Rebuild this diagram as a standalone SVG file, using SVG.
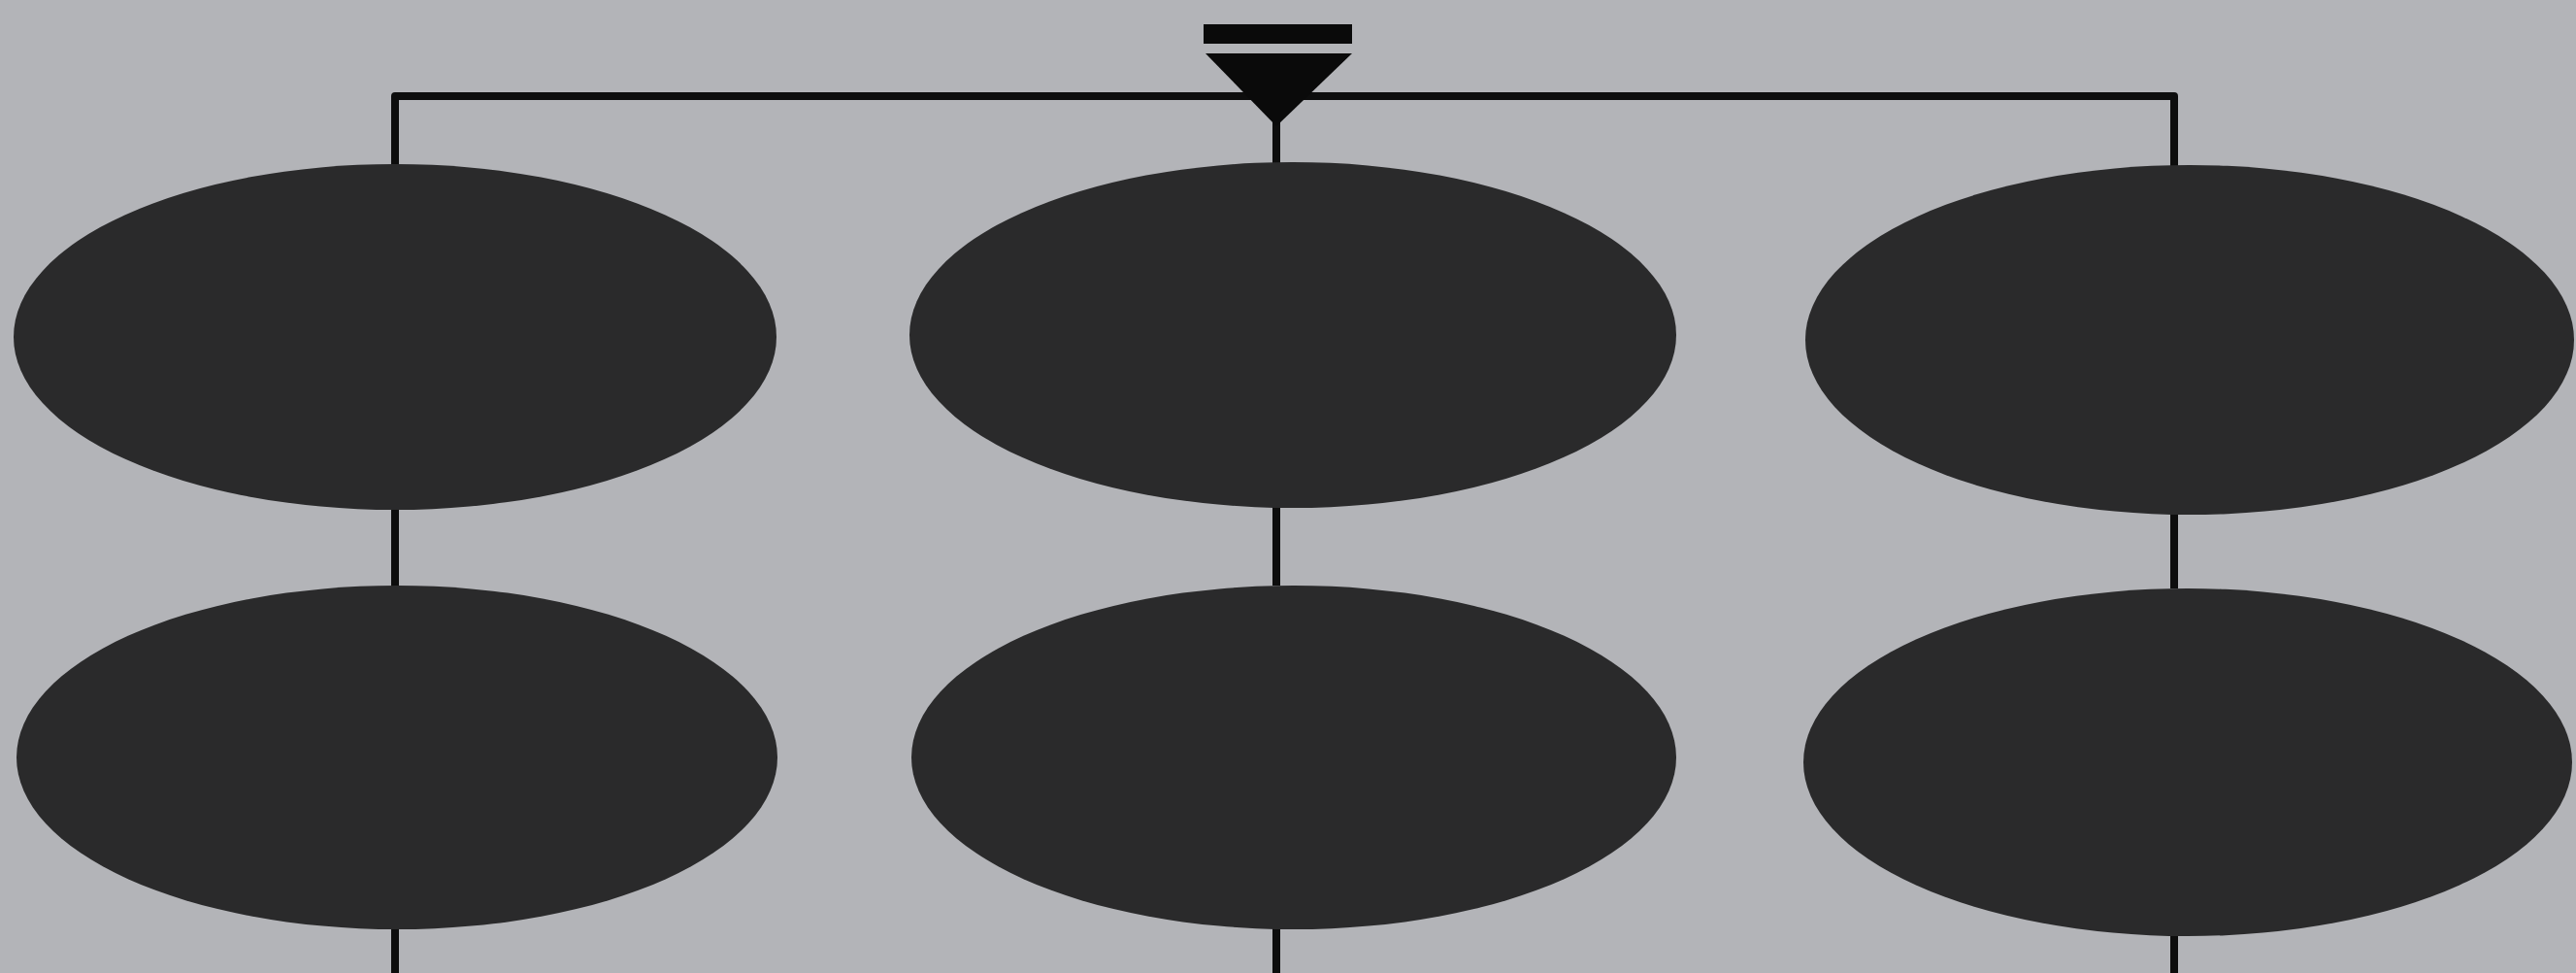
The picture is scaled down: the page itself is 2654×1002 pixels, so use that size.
<svg xmlns="http://www.w3.org/2000/svg" width="2654" height="1002" viewBox="0 0 2654 1002">
  <style>
    .node { fill: #2a2a2b; }
    .wire { fill: none; stroke: #0d0d0d; stroke-width: 8; stroke-linejoin: round; }
    .sym { fill: #0a0a0a; }
  </style>
  <rect x="0" y="0" width="2654" height="1002" fill="#b3b4b8"/>
  <g id="connectors">
    <path class="wire" d="M407,172 V99 H2240 V172"/>
    <path class="wire" d="M1315,99 V168"/>
    <path class="wire" d="M407,523 V604"/>
    <path class="wire" d="M1315,522 V603"/>
    <path class="wire" d="M2240,528 V606"/>
    <path class="wire" d="M407,955 V1002"/>
    <path class="wire" d="M1315,955 V1002"/>
    <path class="wire" d="M2240,962 V1002"/>
  </g>
  <g id="source">
    <rect class="sym" x="1240" y="25" width="153" height="20"/>
    <polygon class="sym" points="1242,55 1393,55 1315,130"/>
  </g>
  <g id="node-1"><ellipse class="node" cx="407" cy="347" rx="393" ry="178"/></g>
  <g id="node-2"><ellipse class="node" cx="1332" cy="345" rx="395" ry="178"/></g>
  <g id="node-3"><ellipse class="node" cx="2256" cy="350" rx="396" ry="180"/></g>
  <g id="node-4"><ellipse class="node" cx="409" cy="780" rx="392" ry="177"/></g>
  <g id="node-5"><ellipse class="node" cx="1333" cy="780" rx="394" ry="177"/></g>
  <g id="node-6"><ellipse class="node" cx="2254" cy="785" rx="396" ry="179"/></g>
</svg>
